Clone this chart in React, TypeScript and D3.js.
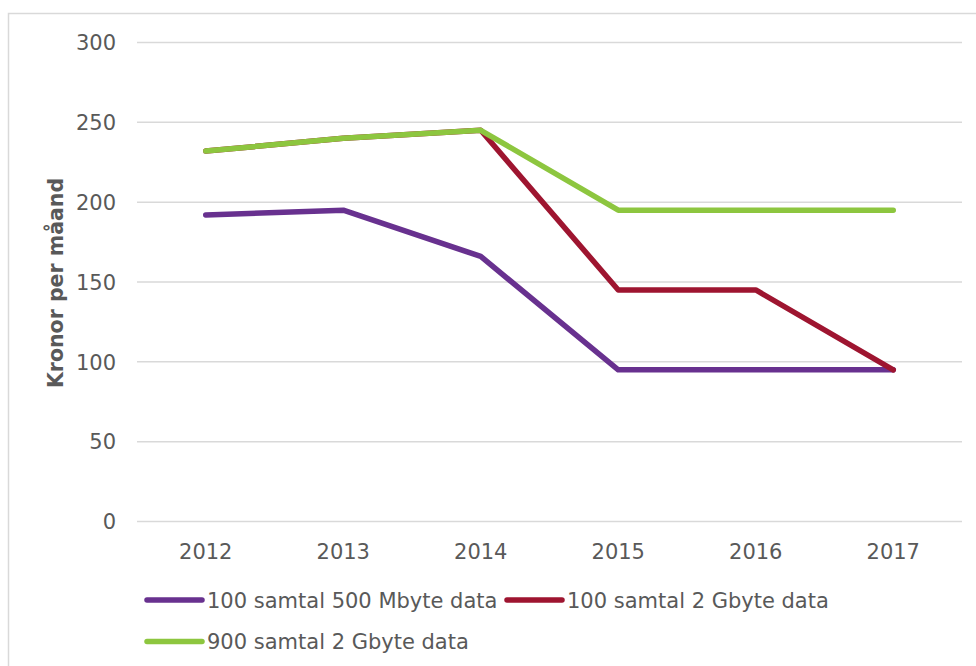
import React, { useEffect, useRef } from 'react';
import * as d3 from 'd3';

const years = ['2012', '2013', '2014', '2015', '2016', '2017'];
const calls100Mb500 = [192, 195, 166, 95, 95, 95];
const calls100Gb2 = [232, 240, 245, 145, 145, 95];
const calls900Gb2 = [232, 240, 245, 195, 195, 195];
const yTicks = [0, 50, 100, 150, 200, 250, 300];

const seriesList = [
  { name: '100 samtal 500 Mbyte data', values: calls100Mb500, color: '#68318f' },
  { name: '100 samtal 2 Gbyte data', values: calls100Gb2, color: '#9e1530' },
  { name: '900 samtal 2 Gbyte data', values: calls900Gb2, color: '#8dc63f' },
];

const App = () => {
  const svgRef = useRef<SVGSVGElement>(null);

  useEffect(() => {
    const width = 976, height = 666;
    const margin = { top: 42.5, right: 14, bottom: 144.5, left: 137 };
    const font = '"DejaVu Sans", Verdana, sans-serif';
    const textColor = '#595959';

    const svg = d3.select(svgRef.current);
    svg.selectAll('*').remove();
    svg.attr('width', width).attr('height', height);

    // chart frame
    svg.append('rect')
      .attr('x', 8.5).attr('y', 13.5)
      .attr('width', 1000).attr('height', 1000)
      .attr('fill', 'white')
      .attr('stroke', '#d9d9d9').attr('stroke-width', 1.5);

    const x = d3.scalePoint()
      .domain(years)
      .range([margin.left, width - margin.right])
      .padding(0.5);
    const y = d3.scaleLinear()
      .domain([0, 300])
      .range([height - margin.bottom, margin.top]);

    // gridlines
    svg.append('g')
      .selectAll('line')
      .data(yTicks)
      .join('line')
      .attr('x1', margin.left)
      .attr('x2', width - margin.right)
      .attr('y1', d => y(d))
      .attr('y2', d => y(d))
      .attr('stroke', '#d9d9d9')
      .attr('stroke-width', 1.5);

    // y tick labels
    svg.append('g')
      .selectAll('text')
      .data(yTicks)
      .join('text')
      .attr('x', 116)
      .attr('y', d => y(d) + 7.7)
      .attr('text-anchor', 'end')
      .attr('font-family', font)
      .attr('font-size', 21)
      .attr('fill', textColor)
      .text(d => d);

    // x tick labels
    svg.append('g')
      .selectAll('text')
      .data(years)
      .join('text')
      .attr('x', d => x(d)!)
      .attr('y', 558.5)
      .attr('text-anchor', 'middle')
      .attr('font-family', font)
      .attr('font-size', 21)
      .attr('fill', textColor)
      .text(d => d);

    // axis title
    svg.append('text')
      .attr('transform', `translate(63,${283}) rotate(-90)`)
      .attr('text-anchor', 'middle')
      .attr('font-family', font)
      .attr('font-size', 20.5)
      .attr('font-weight', 'bold')
      .attr('fill', textColor)
      .text('Kronor per måand');

    const line = d3.line<number>()
      .x((_, i) => x(years[i])!)
      .y(d => y(d));

    svg.append('g')
      .selectAll('path')
      .data(seriesList)
      .join('path')
      .attr('d', d => line(d.values))
      .attr('fill', 'none')
      .attr('stroke', d => d.color)
      .attr('stroke-width', 5.5)
      .attr('stroke-linecap', 'round')
      .attr('stroke-linejoin', 'round');

    // legend
    const legendPos = [
      { x: 147, y: 600 },
      { x: 507, y: 600 },
      { x: 147, y: 641.5 },
    ];
    const legend = svg.append('g')
      .selectAll('g')
      .data(seriesList)
      .join('g')
      .attr('transform', (_, i) => `translate(${legendPos[i].x},${legendPos[i].y})`);
    legend.append('line')
      .attr('x1', 0).attr('x2', 55)
      .attr('stroke', d => d.color)
      .attr('stroke-width', 5.5)
      .attr('stroke-linecap', 'round');
    legend.append('text')
      .attr('x', 60)
      .attr('y', 7.7)
      .attr('font-family', font)
      .attr('font-size', 21)
      .attr('fill', textColor)
      .text(d => d.name);
  }, []);

  return (
    <>
      <style>{'body{margin:0}'}</style>
      <svg ref={svgRef}></svg>
    </>
  );
};

export default App;
